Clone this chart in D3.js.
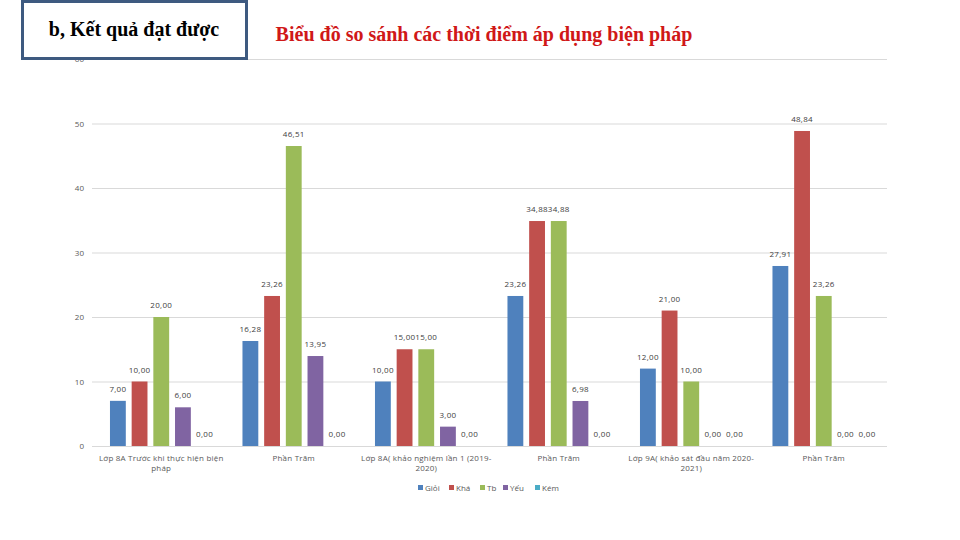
<!DOCTYPE html>
<html>
<head>
<meta charset="utf-8">
<script src="https://cdn.jsdelivr.net/npm/d3@7"></script>
<style>
  body { margin: 0; background: #fff; }
  svg { display: block; }
</style>
</head>
<body>
<div id="chart"></div>
<script>
// data
var categories = [
  ["Lớp 8A Trước khi thực hiện biện", "pháp"],
  ["Phần Trăm"],
  ["Lớp 8A( khảo nghiệm lần 1 (2019-", "2020)"],
  ["Phần Trăm"],
  ["Lớp 9A( khảo sát đầu năm 2020-", "2021)"],
  ["Phần Trăm"]
];
var seriesNames = ["Giỏi", "Khá", "Tb", "Yếu", "Kém"];
var gioi = [7, 16.28, 10, 23.26, 12, 27.91];
var kha  = [10, 23.26, 15, 34.88, 21, 48.84];
var tb   = [20, 46.51, 15, 34.88, 10, 23.26];
var yeu  = [6, 13.95, 3, 6.98, 0, 0];
var kem  = [0, 0, 0, 0, 0, 0];
var yTicks = [0, 10, 20, 30, 40, 50, 60];

var seriesValues = [gioi, kha, tb, yeu, kem];
var colors = ["#4f81bd", "#c0504d", "#9bbb59", "#8064a2", "#4bacc6"];

var width = 960, height = 540;
var plot = {left: 95, right: 890, top: 59, bottom: 446};

var svg = d3.select("#chart").append("svg")
    .attr("width", width)
    .attr("height", height);

var x0 = d3.scaleBand()
    .domain(d3.range(categories.length))
    .range([plot.left, plot.right])
    .paddingInner(0.226)
    .paddingOuter(0.113);

var x1 = d3.scaleBand()
    .domain(d3.range(seriesNames.length))
    .range([0, x0.bandwidth()])
    .paddingInner(0.27);

var y = d3.scaleLinear()
    .domain([0, 60])
    .range([plot.bottom, plot.top]);

var color = d3.scaleOrdinal().domain(seriesNames).range(colors);

var fmt = function(v) { return d3.format(".2f")(v).replace(".", ","); };

// gridlines + y labels
var yAxis = d3.axisLeft(y)
    .tickValues(yTicks)
    .tickSize(-(plot.right - plot.left + 0))
    .tickPadding(8)
    .tickFormat(d3.format("d"));

var gy = svg.append("g")
    .attr("transform", "translate(" + (plot.left - 3) + ",0)")
    .call(yAxis);
gy.select(".domain").remove();
gy.selectAll(".tick line").attr("stroke", "#d9d9d9").attr("stroke-width", 1);
gy.selectAll(".tick text")
    .attr("fill", "#595959")
    .style("font-family", "'Open Sans', sans-serif")
    .style("font-size", "8px");

// bars
var rows = [];
categories.forEach(function(c, i) {
  seriesValues.forEach(function(vals, s) {
    rows.push({cat: i, s: s, v: vals[i]});
  });
});

svg.append("g").selectAll("rect")
  .data(rows)
  .join("rect")
    .attr("x", function(d) { return x0(d.cat) + x1(d.s); })
    .attr("y", function(d) { return y(d.v); })
    .attr("width", x1.bandwidth())
    .attr("height", function(d) { return y(0) - y(d.v); })
    .attr("fill", function(d) { return colors[d.s]; });

svg.append("g").selectAll("text")
  .data(rows)
  .join("text")
    .attr("x", function(d) { return x0(d.cat) + x1(d.s) + x1.bandwidth() / 2; })
    .attr("y", function(d) { return y(d.v) - 9; })
    .attr("text-anchor", "middle")
    .attr("fill", "#404040")
    .style("font-family", "'Open Sans', sans-serif")
    .style("font-size", "8px")
    .style("letter-spacing", "0.3px")
    .text(function(d) { return fmt(d.v); });

// category labels
var gx = svg.append("g");
categories.forEach(function(lines, i) {
  var t = gx.append("text")
      .attr("x", x0(i) + x0.bandwidth() / 2)
      .attr("y", plot.bottom + 15)
      .attr("text-anchor", "middle")
      .attr("fill", "#595959")
      .style("font-family", "'Open Sans', sans-serif")
      .style("font-size", "8px")
      .style("letter-spacing", "0.2px");
  lines.forEach(function(l, j) {
    t.append("tspan")
      .attr("x", x0(i) + x0.bandwidth() / 2)
      .attr("dy", j === 0 ? 0 : 10)
      .text(l);
  });
});

// legend
var legendX = [418, 449, 480, 503, 535];
var lg = svg.append("g").attr("transform", "translate(0,488)");
seriesNames.forEach(function(n, i) {
  lg.append("rect")
    .attr("x", legendX[i]).attr("y", -3)
    .attr("width", 5).attr("height", 5)
    .attr("fill", color(n));
  lg.append("text")
    .attr("x", legendX[i] + 7).attr("y", 3)
    .attr("fill", "#595959")
    .style("font-family", "'Open Sans', sans-serif")
    .style("font-size", "8px")
    .text(n);
});

// title
svg.append("text")
    .attr("x", 484)
    .attr("y", 41)
    .attr("text-anchor", "middle")
    .attr("fill", "#d01818")
    .style("font-family", "'Liberation Serif', serif")
    .style("font-weight", "bold")
    .style("font-size", "20px")
    .text("Biểu đồ so sánh các thời điểm áp dụng biện pháp");

// boxed heading
svg.append("rect")
    .attr("x", 22.5).attr("y", 1.5)
    .attr("width", 224).attr("height", 57)
    .attr("fill", "#fff")
    .attr("stroke", "#3e5a80")
    .attr("stroke-width", 3);
svg.append("text")
    .attr("x", 134)
    .attr("y", 36)
    .attr("text-anchor", "middle")
    .attr("fill", "#000")
    .style("font-family", "'Liberation Serif', serif")
    .style("font-weight", "bold")
    .style("font-size", "20px")
    .text("b, Kết quả đạt được");
</script>
</body>
</html>
